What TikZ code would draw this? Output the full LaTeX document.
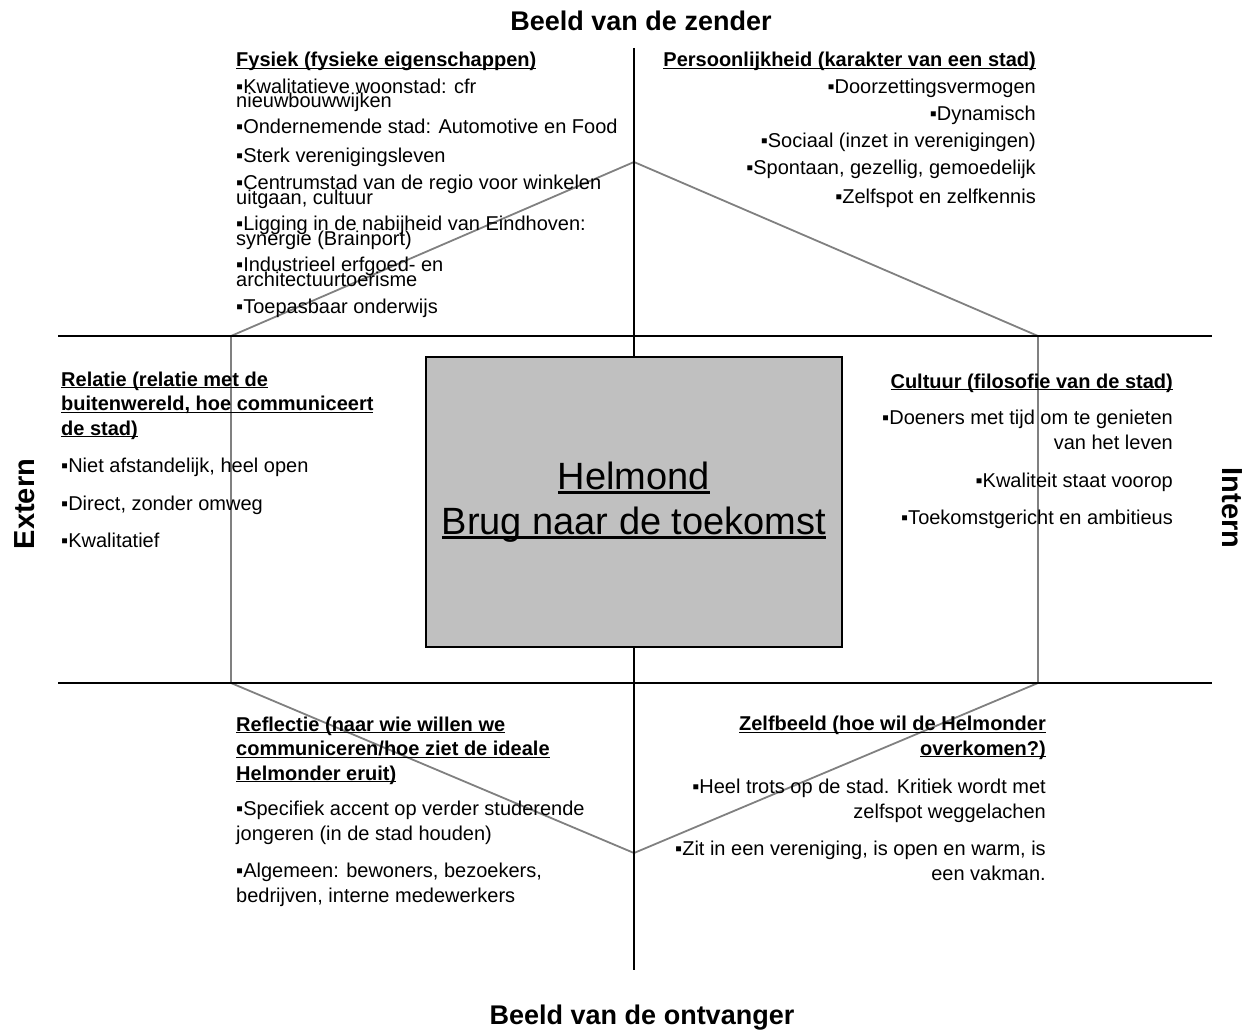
\documentclass[tikz,border=0pt]{standalone}
\usepackage{fontspec}
\setmainfont{Liberation Sans}
\usetikzlibrary{positioning}
\definecolor{boxgray}{RGB}{192,192,192}
\definecolor{hexgray}{RGB}{128,128,128}
\newsavebox\ondlbox
\newcommand{\ondl}[1]{\sbox\ondlbox{#1}\rlap{\rule[-0.12em]{\wd\ondlbox}{0.07em}}\usebox\ondlbox}
\newcommand{\tightfont}{\fontsize{20}{14.5}\selectfont\setlength{\lineskiplimit}{-50pt}}

\begin{document}
\begin{tikzpicture}[x=1pt,y=-1pt]
	\tikzstyle{every node}=[inner sep=0pt]
	\tikzstyle{txt}=[font=\fontsize{20}{25}\selectfont]
	\tikzstyle{tight}=[font=\tightfont]
	\tikzstyle{head}=[font=\fontsize{20}{24.5}\selectfont\bfseries]
	\tikzstyle{lft}=[anchor=base west, align=left]
	\tikzstyle{rgt}=[anchor=base east, align=right]
	\tikzstyle{axislabel}=[font=\fontsize{27}{32}\selectfont\bfseries]
	\tikzstyle{axis}=[black, line width=2.5pt]
	\tikzstyle{hexline}=[hexgray, line width=1.8pt]
	\tikzstyle{brandbox}=[draw=black, line width=2pt, fill=boxgray, minimum width=416pt, minimum height=290pt, align=center, font=\fontsize{38}{45}\selectfont]

	\useasboundingbox (0,0) rectangle (1255,1030);

	% assen en zeshoek
	\coordinate (top) at (634,48);
	\coordinate (bot) at (634,970);
	\coordinate (l1) at (58,336);
	\coordinate (r1) at (1212,336);
	\coordinate (l2) at (58,683);
	\coordinate (r2) at (1212,683);
	\coordinate (h1) at (634,162);
	\coordinate (h2) at (1038,336);
	\coordinate (h3) at (1038,683);
	\coordinate (h4) at (634,853);
	\coordinate (h5) at (231,683);
	\coordinate (h6) at (231,336);

	\draw[hexline] (h1) -- (h2) -- (h3) -- (h4) -- (h5) -- (h6) -- cycle;
	\draw[axis] (top) -- (bot);
	\draw[axis] (l1) -- (r1);
	\draw[axis] (l2) -- (r2);

	\node[brandbox] (brand) at (634,502) {\ondl{Helmond}\\\ondl{Brug naar de toekomst}};

	\node[axislabel] (zender) at (641,21) {Beeld van de zender};
	\node[axislabel] (ontvanger) at (642,1018) {Beeld van de ontvanger};
	\node[axislabel, font=\fontsize{29}{32}\selectfont\bfseries, rotate=90] (extern) at (25,504) {Extern};
	\node[axislabel, font=\fontsize{29}{32}\selectfont\bfseries, rotate=-90] (intern) at (1232,508) {Intern};

	% Fysiek
	\node[head, lft] (fysiek) at (236,67) {\ondl{Fysiek (fysieke eigenschappen)}};
	\node[tight, lft] (f1) at (236,108) {▪Kwalitatieve woonstad: cfr\\nieuwbouwwijken};
	\node[txt, lft] (f2) at (236,133) {▪Ondernemende stad: Automotive en Food};
	\node[txt, lft] (f3) at (236,162) {▪Sterk verenigingsleven};
	\node[tight, lft] (f4) at (236,204) {▪Centrumstad van de regio voor winkelen\\uitgaan, cultuur};
	\node[tight, lft] (f5) at (236,245) {▪Ligging in de nabijheid van Eindhoven:\\synergie (Brainport)};
	\node[tight, lft] (f6) at (236,286) {▪Industrieel erfgoed- en\\architectuurtoerisme};
	\node[txt, lft] (f7) at (236,313) {▪Toepasbaar onderwijs};

	% Persoonlijkheid
	\node[head, rgt] (persoon) at (1036,67) {\ondl{Persoonlijkheid (karakter van een stad)}};
	\node[txt, rgt] (p1) at (1036,94) {▪Doorzettingsvermogen};
	\node[txt, rgt] (p2) at (1036,121) {▪Dynamisch};
	\node[txt, rgt] (p3) at (1036,147) {▪Sociaal (inzet in verenigingen)};
	\node[txt, rgt] (p4) at (1036,175) {▪Spontaan, gezellig, gemoedelijk};
	\node[txt, rgt] (p5) at (1036,203) {▪Zelfspot en zelfkennis};

	% Relatie
	\node[head, lft] (relatie) at (61,435) {\ondl{Relatie (relatie met de}\\\ondl{buitenwereld, hoe communiceert}\\\ondl{de stad)}};
	\node[txt, lft] (r1t) at (61,472) {▪Niet afstandelijk, heel open};
	\node[txt, lft] (r2t) at (61,510) {▪Direct, zonder omweg};
	\node[txt, lft] (r3t) at (61,547) {▪Kwalitatief};

	% Cultuur
	\node[head, rgt] (cultuur) at (1173,388) {\ondl{Cultuur (filosofie van de stad)}};
	\node[txt, rgt] (c1) at (1173,449) {▪Doeners met tijd om te genieten\\van het leven};
	\node[txt, rgt] (c2) at (1173,487) {▪Kwaliteit staat voorop};
	\node[txt, rgt] (c3) at (1173,524) {▪Toekomstgericht en ambitieus};

	% Reflectie
	\node[head, lft] (reflectie) at (236,780) {\ondl{Reflectie (naar wie willen we}\\\ondl{communiceren/hoe ziet de ideale}\\\ondl{Helmonder eruit)}};
	\node[txt, lft] (re1) at (236,840) {▪Specifiek accent op verder studerende\\jongeren (in de stad houden)};
	\node[txt, lft] (re2) at (236,902) {▪Algemeen: bewoners, bezoekers,\\bedrijven, interne medewerkers};

	% Zelfbeeld
	\node[head, rgt] (zelfbeeld) at (1046,755) {\ondl{Zelfbeeld (hoe wil de Helmonder}\\\ondl{overkomen?)}};
	\node[txt, rgt] (z1) at (1046,818) {▪Heel trots op de stad. Kritiek wordt met\\zelfspot weggelachen};
	\node[txt, rgt] (z2) at (1046,880) {▪Zit in een vereniging, is open en warm, is\\een vakman.};

\end{tikzpicture}
\end{document}
